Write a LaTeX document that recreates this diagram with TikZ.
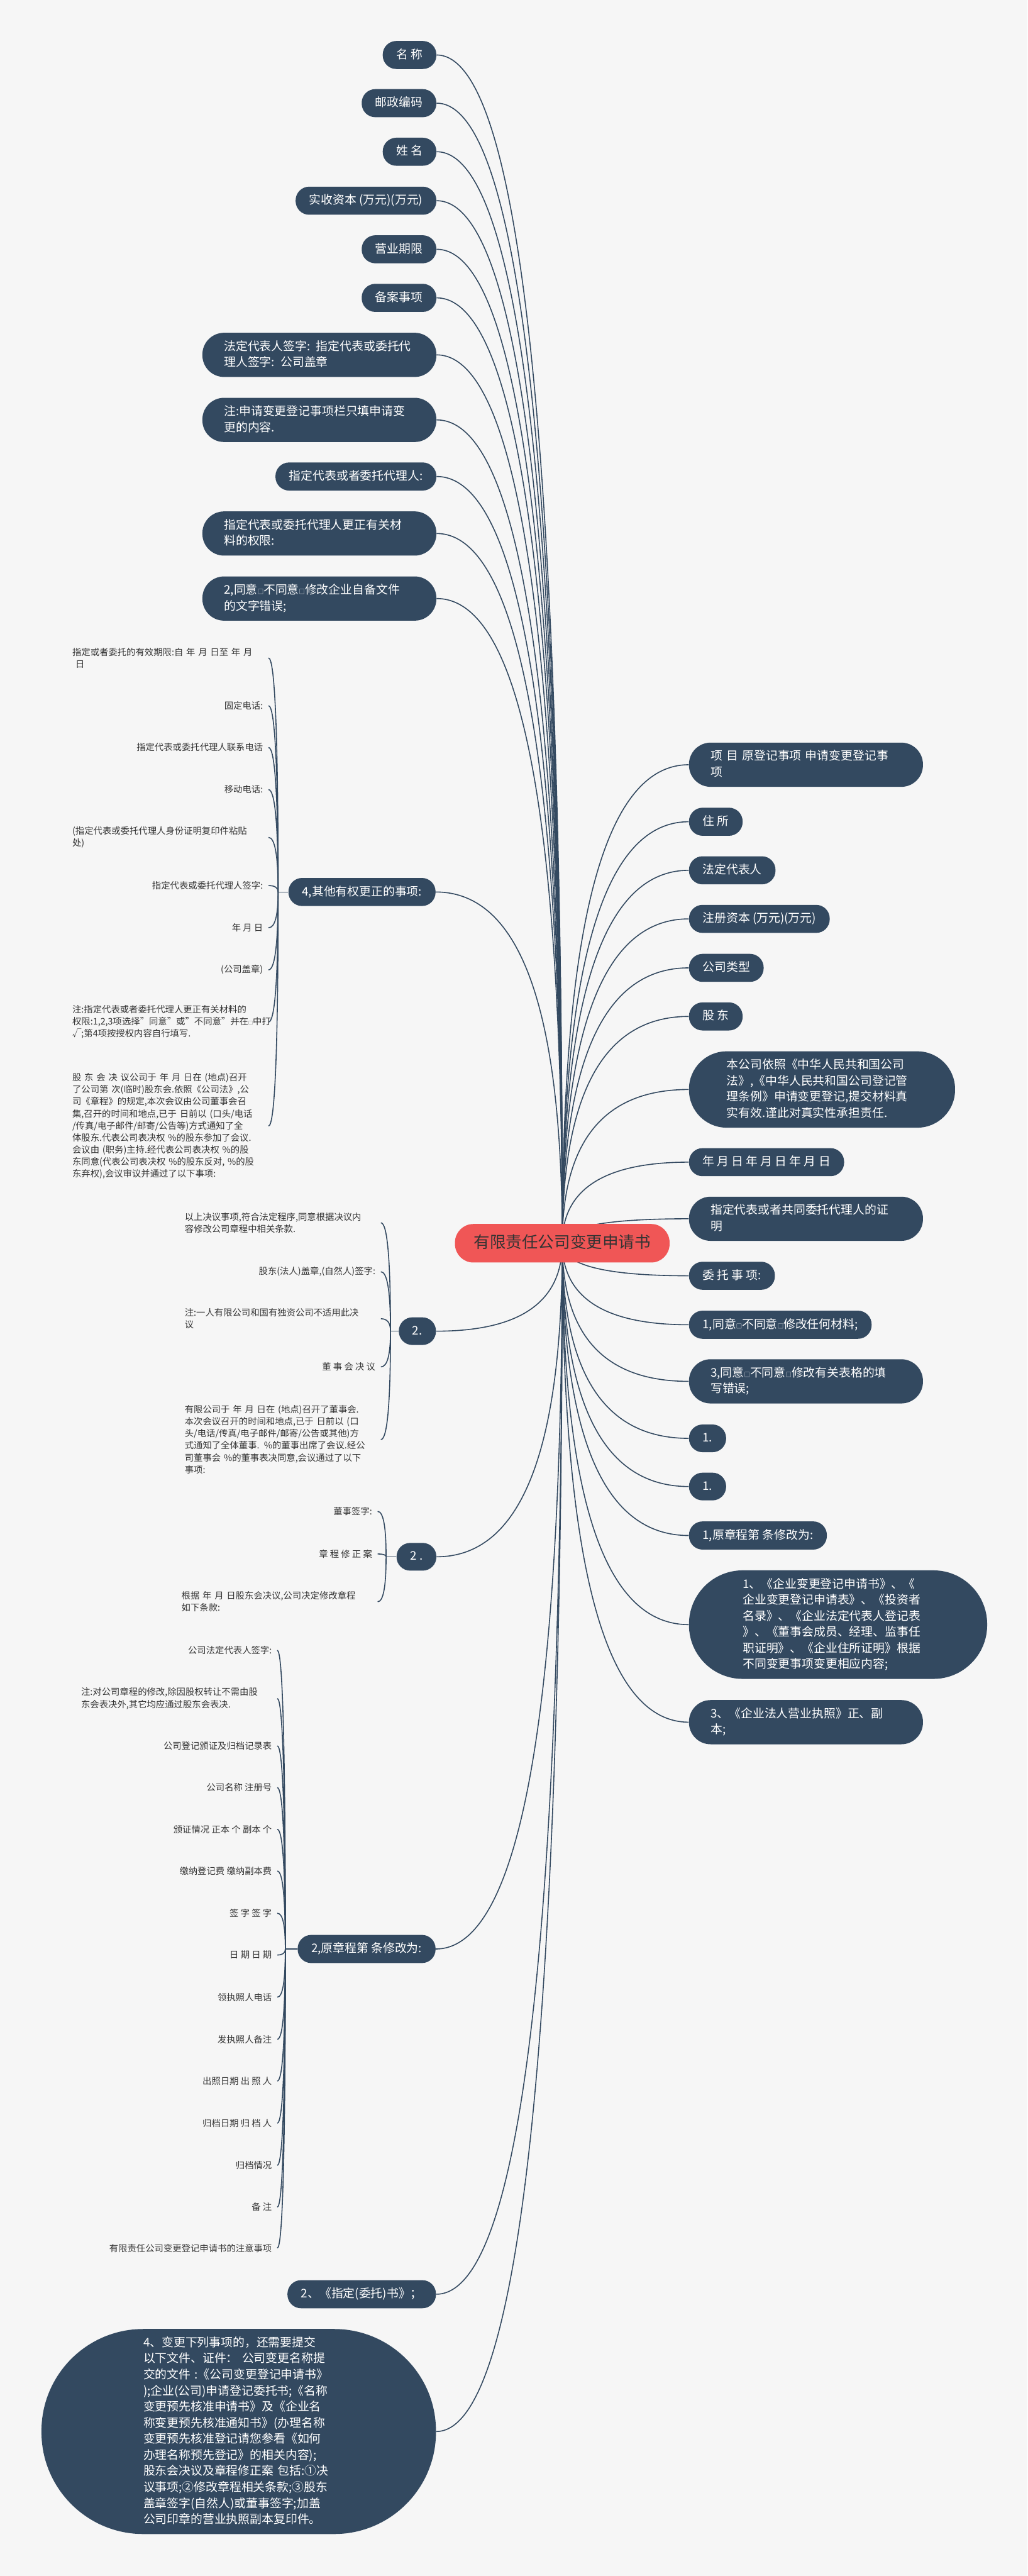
\documentclass[tikz,border=0pt]{standalone}
\usepackage{fontspec}
\setmainfont{Noto Sans CJK SC}
\usepackage{graphicx}
\usetikzlibrary{calc,backgrounds,positioning}
\definecolor{topicblue}{RGB}{51,73,96}
\definecolor{rootred}{RGB}{240,86,86}
\definecolor{paper}{RGB}{246,246,246}
\definecolor{leafgray}{RGB}{51,51,51}
\newcommand{\nstrut}{\rule[-0.07cm]{0pt}{0.31cm}}
\newcommand{\rstrut}{\rule[-0.09cm]{0pt}{0.41cm}}
\newcommand{\boxsq}{\scalebox{0.5}{□}}
% curved link from the root centre to a node side
\newcommand{\rootlink}[2]{\draw[link] (root.center) .. controls ($(root.center)!0.667!(root.center |- #1.#2)$) and ($(#1.#2)!0.667!(root.center |- #1.#2)$) .. (#1.#2);}
% curved link from a trunk point to a leaf
\newcommand{\leaflink}[2]{\draw[link] (#1) .. controls ($(#1)!0.667!(#1 |- #2.east)$) and ($(#2.east)!0.667!(#1 |- #2.east)$) .. (#2.east);}
\tikzset{
  topic/.style={rectangle, rounded corners=#1, inner xsep=#1, fill=topicblue, text=white, inner ysep=0.19cm,
    font=\fontsize{8.4pt}{11.4pt}\selectfont, execute at begin node=\nstrut, execute at end node=\nstrut},
  topic/.default=0.34cm,
  wide/.style={text width=4.75cm, align=left},
  leaf/.style={anchor=east, inner xsep=0.13cm, inner ysep=0.02cm, text=leafgray,
    font=\fontsize{6.4pt}{8.5pt}\selectfont},
  leafwide/.style={text width=4.75cm, align=left},
  rootnode/.style={rectangle, rounded corners=0.46cm, fill=rootred, text=leafgray, inner xsep=0.47cm, inner ysep=0.265cm,
    font=\fontsize{11.4pt}{14pt}\selectfont, execute at begin node=\rstrut},
  link/.style={draw=topicblue, line width=0.025cm}
}
\begin{document}
\begin{tikzpicture}
\useasboundingbox (0,0) rectangle (25.6,-64.17);

% Root
\node[rootnode] (root) at (14.01,-30.97) {有限责任公司变更申请书};

% Left side topics
\node[topic, anchor=east] (l1) at (10.88,-1.37) {名 称};
\node[topic, anchor=east] (l2) at (10.88,-2.57) {邮政编码};
\node[topic, anchor=east] (l3) at (10.88,-3.78) {姓 名};
\node[topic, anchor=east] (l4) at (10.88,-5.00) {实收资本 (万元)(万元)};
\node[topic, anchor=east] (l5) at (10.88,-6.21) {营业期限};
\node[topic, anchor=east] (l6) at (10.88,-7.42) {备案事项};
\node[topic=0.54cm, wide, anchor=east] (l7) at (10.88,-8.84) {法定代表人签字: 指定代表或委托代\\理人签字: 公司盖章};
\node[topic=0.54cm, wide, anchor=east] (l8) at (10.88,-10.46) {注:申请变更登记事项栏只填申请变\\更的内容.};
\node[topic, anchor=east] (l9) at (10.88,-11.87) {指定代表或者委托代理人:};
\node[topic=0.54cm, wide, anchor=east] (l10) at (10.88,-13.29) {指定代表或委托代理人更正有关材\\料的权限:};
\node[topic=0.54cm, wide, anchor=east] (l11) at (10.88,-14.91) {2,同意\boxsq 不同意\boxsq 修改企业自备文件\\的文字错误;};
\node[topic, anchor=east] (l12) at (10.86,-22.22) {4,其他有权更正的事项:};
\node[topic, anchor=east] (l13) at (10.87,-33.16) {2.};
\node[topic, anchor=east] (l14) at (10.88,-38.78) {2 .};
\node[topic, anchor=east] (l15) at (10.86,-48.55) {2,原章程第 条修改为:};
\node[topic, anchor=east] (l16) at (10.87,-57.15) {2、《指定(委托)书》；};
\node[topic=2.54cm, wide, anchor=east] (l17) at (10.87,-60.57) {4、变更下列事项的，还需要提交\\以下文件、证件：  公司变更名称提\\交的文件~:《公司变更登记申请书》\\);企业(公司)申请登记委托书;《名称\\变更预先核准申请书》及《企业名\\称变更预先核准通知书》(办理名称\\变更预先核准登记请您参看《如何\\办理名称预先登记》的相关内容);\\股东会决议及章程修正案 包括:①决\\议事项;②修改章程相关条款;③股东\\盖章签字(自然人)或董事签字;加盖\\公司印章的营业执照副本复印件。};

% Right side topics
\node[topic=0.54cm, wide, anchor=west] (r1) at (17.16,-19.05) {项 目 原登记事项 申请变更登记事\\项};
\node[topic, anchor=west] (r2) at (17.16,-20.47) {住 所};
\node[topic, anchor=west] (r3) at (17.16,-21.68) {法定代表人};
\node[topic, anchor=west] (r4) at (17.16,-22.89) {注册资本 (万元)(万元)};
\node[topic, anchor=west] (r5) at (17.16,-24.11) {公司类型};
\node[topic, anchor=west] (r6) at (17.16,-25.32) {股 东};
\node[topic=0.94cm, wide, anchor=west] (r7) at (17.16,-27.14) {本公司依照《中华人民共和国公司\\法》,《中华人民共和国公司登记管\\理条例》申请变更登记,提交材料真\\实有效.谨此对真实性承担责任.};
\node[topic, anchor=west] (r8) at (17.16,-28.95) {年 月 日 年 月 日 年 月 日};
\node[topic=0.54cm, wide, anchor=west] (r9) at (17.16,-30.36) {指定代表或者共同委托代理人的证\\明};
\node[topic, anchor=west] (r10) at (17.16,-31.78) {委 托 事 项:};
\node[topic, anchor=west] (r11) at (17.16,-33.00) {1,同意\boxsq 不同意\boxsq 修改任何材料;};
\node[topic=0.54cm, wide, anchor=west] (r12) at (17.16,-34.41) {3,同意\boxsq 不同意\boxsq 修改有关表格的填\\写错误;};
\node[topic, anchor=west] (r13) at (17.16,-35.83) {1.};
\node[topic, anchor=west] (r14) at (17.16,-37.03) {1.};
\node[topic, anchor=west] (r15) at (17.16,-38.25) {1,原章程第 条修改为:};
\node[topic=1.34cm, wide, anchor=west] (r16) at (17.16,-40.47) {1、《企业变更登记申请书》、《\\企业变更登记申请表》、《投资者\\名录》、《企业法定代表人登记表\\》、《董事会成员、经理、监事任\\职证明》、《企业住所证明》根据\\不同变更事项变更相应内容;};
\node[topic=0.54cm, wide, anchor=west] (r17) at (17.16,-42.90) {3、《企业法人营业执照》正、副\\本;};

% Leaves of 4,其他有权更正的事项
\coordinate (tp) at (6.93,-22.22);
\node[leaf, leafwide] (p1) at (6.69,-16.39) {指定或者委托的有效期限:自 年 月 日至 年 月\\\hspace*{0.08cm}日};
\node[leaf] (p2) at (6.69,-17.58) {固定电话:};
\node[leaf] (p3) at (6.69,-18.62) {指定代表或委托代理人联系电话};
\node[leaf] (p4) at (6.69,-19.67) {移动电话:};
\node[leaf, leafwide] (p5) at (6.69,-20.86) {(指定代表或委托代理人身份证明复印件粘贴\\处)};
\node[leaf] (p6) at (6.69,-22.06) {指定代表或委托代理人签字:};
\node[leaf] (p7) at (6.69,-23.11) {年 月 日};
\node[leaf] (p8) at (6.69,-24.16) {(公司盖章)};
\node[leaf, leafwide] (p9) at (6.69,-25.46) {注:指定代表或者委托代理人更正有关材料的\\权限:1,2,3项选择"同意"或"不同意"并在\boxsq 中打\\√;第4项按授权内容自行填写.};
\node[leaf, leafwide] (p10) at (6.69,-28.05) {股 东 会 决 议公司于 年 月 日在 (地点)召开\\了公司第 次(临时)股东会.依照《公司法》,公\\司《章程》的规定,本次会议由公司董事会召\\集,召开的时间和地点,已于 日前以 (口头/电话\\/传真/电子邮件/邮寄/公告等)方式通知了全\\体股东.代表公司表决权 \%的股东参加了会议.\\会议由 (职务)主持.经代表公司表决权 \%的股\\东同意(代表公司表决权 \%的股东反对, \%的股\\东弃权),会议审议并通过了以下事项:};

% Leaves of 2.
\coordinate (tq) at (9.73,-33.16);
\node[leaf, leafwide] (q1) at (9.49,-30.46) {以上决议事项,符合法定程序,同意根据决议内\\容修改公司章程中相关条款.};
\node[leaf] (q2) at (9.49,-31.68) {股东(法人)盖章,(自然人)签字:};
\node[leaf, leafwide] (q3) at (9.49,-32.85) {注:一人有限公司和国有独资公司不适用此决\\议};
\node[leaf] (q4) at (9.49,-34.05) {董 事 会 决 议};
\node[leaf, leafwide] (q5) at (9.49,-35.86) {有限公司于 年 月 日在 (地点)召开了董事会.\\本次会议召开的时间和地点,已于 日前以 (口\\头/电话/传真/电子邮件/邮寄/公告或其他)方\\式通知了全体董事. \%的董事出席了会议.经公\\司董事会 \%的董事表决同意,会议通过了以下\\事项:};

% Leaves of 2 .
\coordinate (ts) at (9.62,-38.78);
\node[leaf] (s1) at (9.41,-37.65) {董事签字:};
\node[leaf] (s2) at (9.41,-38.71) {章 程 修 正 案};
\node[leaf, leafwide] (s3) at (9.41,-39.90) {根据 年 月 日股东会决议,公司决定修改章程\\如下条款:};

% Leaves of 2,原章程第 条修改为
\coordinate (tu) at (7.11,-48.55);
\node[leaf] (u1) at (6.91,-41.11) {公司法定代表人签字:};
\node[leaf, leafwide] (u2) at (6.91,-42.31) {注:对公司章程的修改,除因股权转让不需由股\\东会表决外,其它均应通过股东会表决.};
\node[leaf] (u3) at (6.91,-43.49) {公司登记颁证及归档记录表};
\node[leaf] (u4) at (6.91,-44.53) {公司名称 注册号};
\node[leaf] (u5) at (6.91,-45.57) {颁证情况 正本 个 副本 个};
\node[leaf] (u6) at (6.91,-46.61) {缴纳登记费 缴纳副本费};
\node[leaf] (u7) at (6.91,-47.66) {签 字 签 字};
\node[leaf] (u8) at (6.91,-48.70) {日 期 日 期};
\node[leaf] (u9) at (6.91,-49.75) {领执照人电话};
\node[leaf] (u10) at (6.91,-50.80) {发执照人备注};
\node[leaf] (u11) at (6.91,-51.84) {出照日期 出 照 人};
\node[leaf] (u12) at (6.91,-52.89) {归档日期 归 档 人};
\node[leaf] (u13) at (6.91,-53.94) {归档情况};
\node[leaf] (u14) at (6.91,-54.98) {备 注};
\node[leaf] (u15) at (6.91,-56.00) {有限责任公司变更登记申请书的注意事项};

% Background and connectors
\begin{scope}[on background layer]
\fill[paper] (0,0) rectangle (25.6,-64.17);
\foreach \i in {1,...,17}{
  \rootlink{l\i}{east}
  \rootlink{r\i}{west}
}
\draw[link] (l12.west) -- (tp);
\draw[link] (l13.west) -- (tq);
\draw[link] (l14.west) -- (ts);
\draw[link] (l15.west) -- (tu);
\foreach \i in {1,...,10}{\leaflink{tp}{p\i}}
\foreach \i in {1,...,5}{\leaflink{tq}{q\i}}
\foreach \i in {1,...,3}{\leaflink{ts}{s\i}}
\foreach \i in {1,...,15}{\leaflink{tu}{u\i}}
\end{scope}
\end{tikzpicture}
\end{document}
